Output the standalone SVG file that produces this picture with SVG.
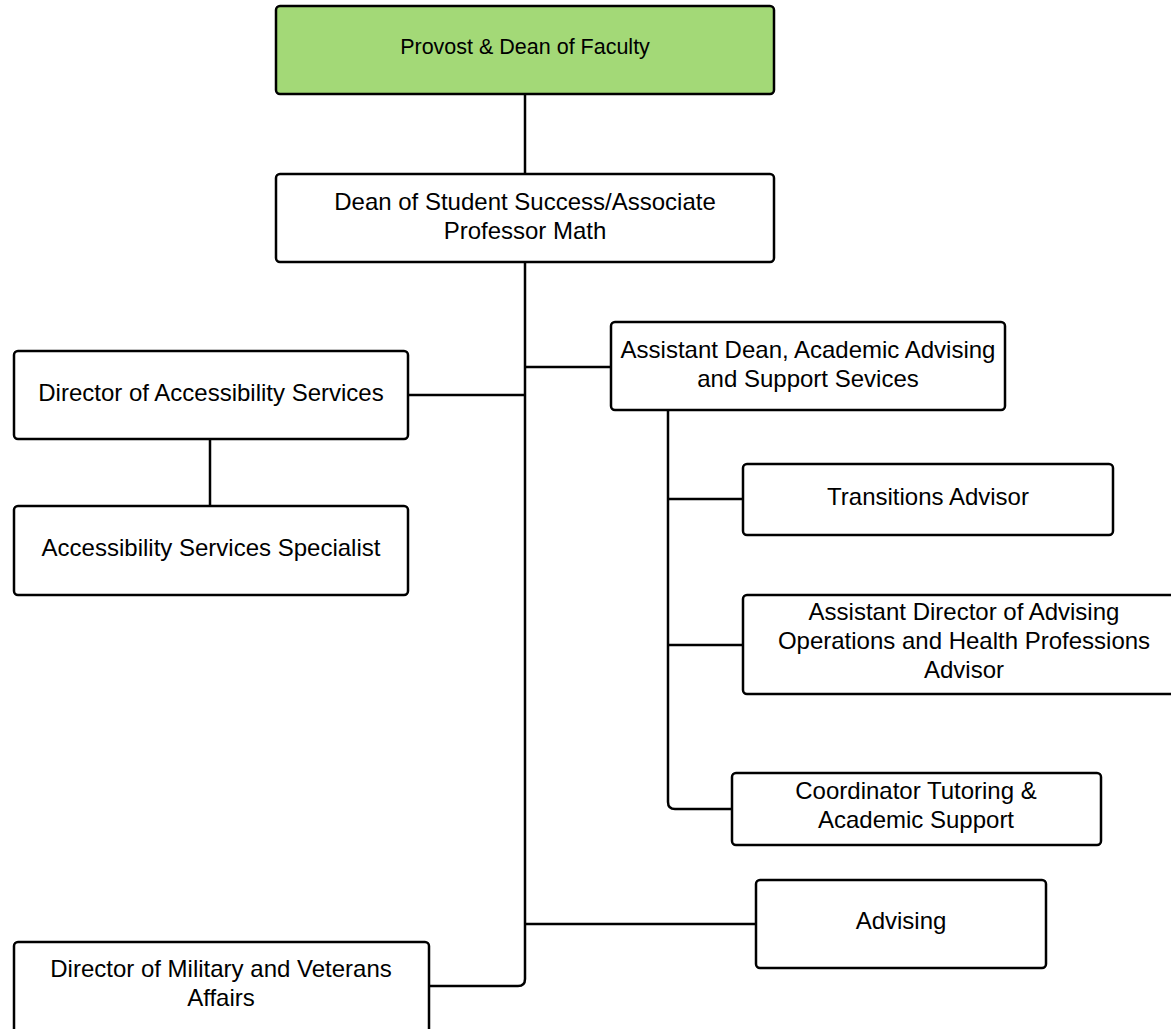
<svg xmlns="http://www.w3.org/2000/svg" width="1171" height="1029" viewBox="0 0 1171 1029">
<style>
.box{fill:#fff;stroke:#000;stroke-width:2.5}
.green{fill:#a3d977}
text{font-family:"Liberation Sans",Arial,sans-serif;font-size:24px;fill:#000;text-anchor:middle}
.sm{font-size:21.5px}
.conn{fill:none;stroke:#000;stroke-width:2.5}
</style>
<rect width="1171" height="1029" fill="#fff"/>
<g id="connectors">
<path class="conn" d="M525 94V174"/>
<path class="conn" d="M525 262V979Q525 986 518 986H429"/>
<path class="conn" d="M525 367H611"/>
<path class="conn" d="M408 395H525"/>
<path class="conn" d="M525 924H756"/>
<path class="conn" d="M210 439V506"/>
<path class="conn" d="M668 410V802Q668 809 675 809H732"/>
<path class="conn" d="M668 499H743"/>
<path class="conn" d="M668 645H743"/>
</g>
<g id="provost"><rect class="box green" x="276" y="6" width="498" height="88" rx="4"/><text class="sm" x="525" y="54">Provost &amp; Dean of Faculty</text></g>
<g id="dean"><rect class="box" x="276" y="174" width="498" height="88" rx="4"/><text x="525" y="210">Dean of Student Success/Associate</text><text x="525" y="239">Professor Math</text></g>
<g id="dir-access"><rect class="box" x="14" y="351" width="394" height="88" rx="4"/><text x="211" y="401">Director of Accessibility Services</text></g>
<g id="access-spec"><rect class="box" x="14" y="506" width="394" height="89" rx="4"/><text x="211" y="556">Accessibility Services Specialist</text></g>
<g id="asst-dean"><rect class="box" x="611" y="322" width="394" height="88" rx="4"/><text x="808" y="358">Assistant Dean, Academic Advising</text><text x="808" y="387">and Support Sevices</text></g>
<g id="transitions"><rect class="box" x="743" y="464" width="370" height="71" rx="4"/><text x="928" y="505">Transitions Advisor</text></g>
<g id="asst-dir"><rect class="box" x="743" y="595" width="440" height="99" rx="4"/><text x="964" y="620">Assistant Director of Advising</text><text x="964" y="649">Operations and Health Professions</text><text x="964" y="678">Advisor</text></g>
<g id="coordinator"><rect class="box" x="732" y="773" width="369" height="72" rx="4"/><text x="916" y="799">Coordinator Tutoring &amp;</text><text x="916" y="828">Academic Support</text></g>
<g id="advising"><rect class="box" x="756" y="880" width="290" height="88" rx="4"/><text x="901" y="929">Advising</text></g>
<g id="dir-military"><rect class="box" x="14" y="942" width="415" height="100" rx="4"/><text x="221" y="977">Director of Military and Veterans</text><text x="221" y="1006">Affairs</text></g>
</svg>
